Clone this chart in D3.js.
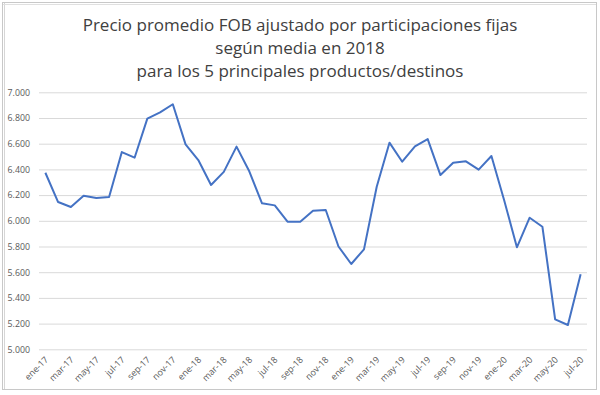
<!DOCTYPE html>
<html>
<head>
<meta charset="utf-8">
<script src="https://cdn.jsdelivr.net/npm/d3@7"></script>
<style>
html,body{margin:0;padding:0;background:#fff;}
svg{display:block;}
</style>
</head>
<body>
<svg id="chart" width="600" height="395"></svg>
<script>
const titleLines = [
  "Precio promedio FOB ajustado por participaciones fijas",
  "según media en 2018",
  "para los 5 principales productos/destinos"
];
const months = [
  "ene-17","feb-17","mar-17","abr-17","may-17","jun-17","jul-17","ago-17","sep-17","oct-17","nov-17","dic-17",
  "ene-18","feb-18","mar-18","abr-18","may-18","jun-18","jul-18","ago-18","sep-18","oct-18","nov-18","dic-18",
  "ene-19","feb-19","mar-19","abr-19","may-19","jun-19","jul-19","ago-19","sep-19","oct-19","nov-19","dic-19",
  "ene-20","feb-20","mar-20","abr-20","may-20","jun-20","jul-20"
];
const values = [
  6374,6146,6107,6195,6177,6185,6535,6491,6795,6844,6907,6595,
  6473,6279,6381,6577,6385,6136,6120,5993,5993,6079,6084,5800,
  5664,5778,6265,6608,6460,6580,6636,6356,6452,6463,6398,6504,
  6160,5794,6024,5954,5233,5189,5584
];
const yTicks = [5000,5200,5400,5600,5800,6000,6200,6400,6600,6800,7000];
const xTickLabels = months.filter((m,i)=>i%2===0);

const svg = d3.select("#chart");

// chart frame
svg.append("rect").attr("x",2.5).attr("y",2.5).attr("width",594).attr("height",387)
  .attr("fill","#fff").attr("stroke","#c8c8c8").attr("stroke-width",1);
svg.append("line").attr("x1",4.5).attr("x2",4.5).attr("y1",3).attr("y2",389)
  .attr("stroke","#d6d6d6");
svg.append("line").attr("x1",3).attr("x2",596).attr("y1",4.5).attr("y2",4.5)
  .attr("stroke","#e0e0e0");

const plot = {left:39, right:587, top:92.3, bottom:349.3};

const x = d3.scalePoint().domain(months).range([plot.left, plot.right]).padding(0.5);
const y = d3.scaleLinear().domain([5000,7000]).range([plot.bottom, plot.top]);

const loc = d3.formatLocale({decimal:",", thousands:".", grouping:[3], currency:["$",""]});

// title
const title = svg.append("g");
titleLines.forEach((t,i)=>{
  title.append("text")
    .attr("x",300).attr("y",31 + i*23)
    .attr("text-anchor","middle")
    .attr("font-family","'Open Sans', sans-serif")
    .attr("font-size",17)
    .attr("fill","#404040")
    .text(t);
});

// gridlines + y axis
const yAxis = d3.axisLeft(y).tickValues(yTicks).tickSize(-(plot.right-plot.left)).tickPadding(9)
  .tickFormat(d => loc.format(",")(d));
const gy = svg.append("g").attr("transform",`translate(${plot.left},0)`).call(yAxis);
gy.select(".domain").remove();
gy.selectAll(".tick line").attr("stroke","#d9d9d9").attr("stroke-width",1);
gy.selectAll(".tick text").attr("fill","#595959")
  .attr("font-family","'Open Sans', sans-serif").attr("font-size",8.8);

// x axis
const xAxis = d3.axisBottom(x).tickValues(xTickLabels).tickSize(0).tickPadding(0);
const gx = svg.append("g").attr("transform",`translate(0,${plot.bottom})`).call(xAxis);
gx.select(".domain").remove();
gx.selectAll(".tick text")
  .attr("fill","#595959")
  .attr("font-family","'Open Sans', sans-serif").attr("font-size",9)
  .attr("text-anchor","end")
  .attr("dy",0)
  .attr("transform","translate(3,11) rotate(-45)");

// line
const line = d3.line().x((d,i)=>x(months[i])).y(d=>y(d));
svg.append("path").datum(values)
  .attr("d",line)
  .attr("fill","none")
  .attr("stroke","#4472C4")
  .attr("stroke-width",2)
  .attr("stroke-linejoin","round");
</script>
</body>
</html>
